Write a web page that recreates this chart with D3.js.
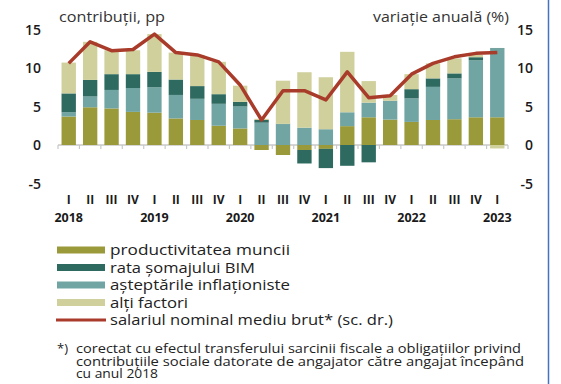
<!DOCTYPE html>
<html lang="ro">
<head>
  <meta charset="UTF-8" />
  <title>Contribuţii la dinamica salariului</title>
  <style>
    body { margin: 0; background: #fff; font-family: "Open Sans", "Noto Sans", sans-serif; }
  </style>
</head>
<body>
  <div id="chart"></div>
  <script src="https://d3js.org/d3.v7.min.js"></script>
  <script>
    // quarters 2018 Q1 .. 2023 Q1
    const quarters = ["I","II","III","IV","I","II","III","IV","I","II","III","IV",
                      "I","II","III","IV","I","II","III","IV","I"];
    const years = ["2018","2019","2020","2021","2022","2023"];
    const yTicks = [-5, 0, 5, 10, 15];

    // contributions, pp
    const productivitate = [3.7, 4.9, 4.75, 4.3, 4.2, 3.45, 3.25, 2.5, 2.15, -0.65, -1.3,
                            -0.65, -0.5, 2.45, 3.6, 3.3, 3.0, 3.25, 3.35, 3.6, 3.6];
    const somaj = [2.45, 2.15, 2.05, 1.8, 2.0, 2.0, 1.65, 1.25, 0.6, 0.35, 0.05,
                   -1.75, -2.5, -2.7, -2.25, 0, 1.2, 1.1, 0.65, 0.4, 0.05];
    const asteptari = [0.55, 1.4, 2.4, 3.1, 3.3, 3.05, 2.75, 2.85, 2.85, 2.9, 2.7,
                       2.25, 2.05, 1.8, 1.9, 2.45, 3.05, 4.3, 5.3, 7.4, 8.95];
    const altiFactori = [4.0, 4.95, 3.1, 3.1, 4.9, 3.5, 4.05, 4.2, 2.1, 0.15, 5.6,
                         7.2, 6.75, 7.85, 2.8, 0.75, 1.95, 1.95, 1.95, 0.3, -0.45];
    // annual change, %
    const salariu = [10.6, 13.4, 12.25, 12.4, 14.4, 12.0, 11.7, 10.8, 7.8, 3.25, 7.05,
                     7.05, 5.85, 9.5, 6.15, 6.4, 9.2, 10.6, 11.45, 11.9, 12.0];

    const series = [
      { key: "prod", label: "productivitatea muncii", color: "#9b9a3a", values: productivitate, w: 180 },
      { key: "somaj", label: "rata şomajului BIM", color: "#2e6a60", values: somaj, w: 145 },
      { key: "ast", label: "aşteptările inflaţioniste", color: "#70a5a3", values: asteptari, w: 180 },
      { key: "alti", label: "alţi factori", color: "#cfd09c", values: altiFactori, w: 78 }
    ];
    const stackOrder = ["prod", "ast", "somaj", "alti"];

    const W = 561, H = 384;
    const svg = d3.select("#chart").append("svg")
      .attr("width", W).attr("height", H)
      .style("font-family", "'Open Sans', 'Noto Sans', sans-serif");

    const rows = quarters.map((q, i) => {
      const r = { i: i };
      series.forEach(s => r[s.key] = s.values[i]);
      return r;
    });

    const x = d3.scaleBand()
      .domain(d3.range(quarters.length))
      .range([58, 508])
      .paddingInner(0.33)
      .paddingOuter(0.165);

    const y = d3.scaleLinear().domain([-5, 15]).range([183.5, 29.5]);

    const colorOf = {};
    series.forEach(s => colorOf[s.key] = s.color);

    const stacked = d3.stack()
      .keys(stackOrder)
      .offset(d3.stackOffsetDiverging)(rows);

    // zero line with ticks between quarters
    svg.append("line")
      .attr("x1", 58).attr("x2", 508)
      .attr("y1", y(0)).attr("y2", y(0))
      .attr("stroke", "#c8c8c8").attr("stroke-width", 1.5);

    const step = x.step();
    svg.selectAll("line.qtick")
      .data(d3.range(quarters.length + 1))
      .enter().append("line")
      .attr("class", "qtick")
      .attr("x1", d => 58 + d * step).attr("x2", d => 58 + d * step)
      .attr("y1", y(0)).attr("y2", y(0) + 4)
      .attr("stroke", "#c8c8c8").attr("stroke-width", 1.2);

    svg.append("g").selectAll("g")
      .data(stacked)
      .enter().append("g")
      .attr("fill", d => colorOf[d.key])
      .selectAll("rect")
      .data(d => d)
      .enter().append("rect")
      .attr("x", d => x(d.data.i))
      .attr("width", x.bandwidth())
      .attr("y", d => y(Math.max(d[0], d[1])))
      .attr("height", d => Math.abs(y(d[0]) - y(d[1])));

    // wage line (right axis, same scale)
    const line = d3.line()
      .x((d, i) => x(i) + x.bandwidth() / 2)
      .y(d => y(d));

    svg.append("path")
      .datum(salariu)
      .attr("d", line)
      .attr("fill", "none")
      .attr("stroke", "#a93b2a")
      .attr("stroke-width", 3.5)
      .attr("stroke-linejoin", "round");

    // y axis labels both sides
    svg.selectAll("text.yl")
      .data(yTicks)
      .enter().append("text")
      .attr("x", 41).attr("y", d => y(d) + 5)
      .attr("text-anchor", "end")
      .attr("font-size", 14).attr("font-weight", 600).attr("fill", "#1a1a1a")
      .text(d => d);

    svg.selectAll("text.yr")
      .data(yTicks)
      .enter().append("text")
      .attr("x", 533).attr("y", d => y(d) + 5)
      .attr("text-anchor", "end")
      .attr("font-size", 14).attr("font-weight", 600).attr("fill", "#1a1a1a")
      .text(d => d);

    svg.append("text")
      .attr("x", 59).attr("y", 22)
      .attr("font-size", 14).attr("fill", "#333")
      .attr("textLength", 106).attr("lengthAdjust", "spacingAndGlyphs")
      .text("contribuţii, pp");

    svg.append("text")
      .attr("x", 373).attr("y", 22)
      .attr("font-size", 14).attr("fill", "#333")
      .attr("textLength", 136).attr("lengthAdjust", "spacingAndGlyphs")
      .text("variaţie anuală (%)");

    // quarter and year labels
    svg.selectAll("text.q")
      .data(quarters)
      .enter().append("text")
      .attr("x", (d, i) => x(i) + x.bandwidth() / 2)
      .attr("y", 204)
      .attr("text-anchor", "middle")
      .attr("font-size", 12).attr("font-weight", 700).attr("fill", "#1a1a1a")
      .text(d => d);

    svg.selectAll("text.yr-lab")
      .data(years)
      .enter().append("text")
      .attr("x", (d, i) => x(i * 4) + x.bandwidth() / 2)
      .attr("y", 222)
      .attr("text-anchor", "middle")
      .attr("font-size", 12.5).attr("font-weight", 700).attr("fill", "#1a1a1a")
      .text(d => d);

    // legend
    const legY = [250, 267.5, 285, 302.5];
    const legend = svg.append("g");
    series.forEach((s, i) => {
      legend.append("rect")
        .attr("x", 57).attr("y", legY[i] - 3.5)
        .attr("width", 48).attr("height", 7)
        .attr("fill", s.color);
      legend.append("text")
        .attr("x", 110).attr("y", legY[i] + 5)
        .attr("font-size", 15).attr("fill", "#222")
        .attr("textLength", s.w).attr("lengthAdjust", "spacingAndGlyphs")
        .text(s.label);
    });
    legend.append("line")
      .attr("x1", 56).attr("x2", 106)
      .attr("y1", 320).attr("y2", 320)
      .attr("stroke", "#a93b2a").attr("stroke-width", 3);
    legend.append("text")
      .attr("x", 110).attr("y", 325)
      .attr("font-size", 15).attr("fill", "#222")
      .attr("textLength", 283).attr("lengthAdjust", "spacingAndGlyphs")
      .text("salariul nominal mediu brut* (sc. dr.)");

    // footnote
    const notes = [
      { x: 57, y: 353, t: "*)" },
      { x: 76, y: 353, t: "corectat cu efectul transferului sarcinii fiscale a obligaţiilor privind", w: 445 },
      { x: 76, y: 365.5, t: "contribuţiile sociale datorate de angajator către angajat începând", w: 448 },
      { x: 76, y: 378, t: "cu anul 2018", w: 82 }
    ];
    svg.selectAll("text.note")
      .data(notes)
      .enter().append("text")
      .attr("x", d => d.x).attr("y", d => d.y)
      .attr("font-size", 13).attr("fill", "#222")
      .each(function (d) {
        if (d.w) d3.select(this).attr("textLength", d.w).attr("lengthAdjust", "spacingAndGlyphs");
      })
      .text(d => d.t);

    // frame line on the right
    svg.append("line")
      .attr("x1", 548.5).attr("x2", 548.5)
      .attr("y1", 0).attr("y2", H)
      .attr("stroke", "#4472c4").attr("stroke-width", 1.5);
  </script>
</body>
</html>
